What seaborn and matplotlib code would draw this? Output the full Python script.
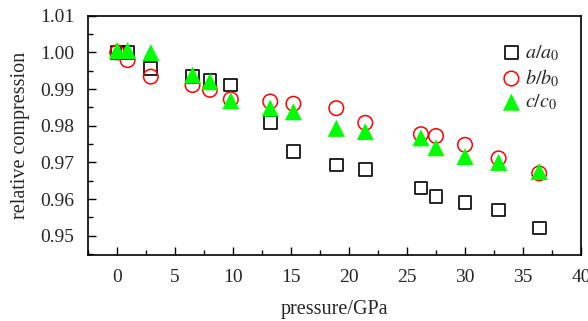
import matplotlib
matplotlib.use("Agg")
import matplotlib.pyplot as plt
from matplotlib.ticker import MultipleLocator
import seaborn as sns
import pandas as pd

# pressure points (GPa), shared by all three series
pressure = [0, 0.9, 2.9, 6.5, 8.0, 9.8, 13.2, 15.2, 18.9, 21.4, 26.2, 27.5, 30.0, 32.9, 36.4]

a_ratio = [1.000, 1.000, 0.9957, 0.9934, 0.9925, 0.9911, 0.9808, 0.9729, 0.9693,
           0.9680, 0.9630, 0.9608, 0.9590, 0.9570, 0.9521]
b_ratio = [1.000, 0.9979, 0.9934, 0.9911, 0.9898, 0.9872, 0.9866, 0.9860, 0.9848,
           0.9808, 0.9777, 0.9772, 0.9748, 0.9711, 0.9670]
c_ratio = [1.0005, 1.0005, 0.9999, 0.9938, 0.9920, 0.9868, 0.9848, 0.9838, 0.9793,
           0.9784, 0.9767, 0.9740, 0.9716, 0.9700, 0.9675]

labels = [r"$a/a_0$", r"$b/b_0$", r"$c/c_0$"]

df = pd.DataFrame({"pressure": pressure, "a": a_ratio, "b": b_ratio, "c": c_ratio})

sns.set_style("white")
plt.rcParams["font.family"] = ["Liberation Serif", "DejaVu Serif"]
plt.rcParams["mathtext.fontset"] = "stix"

fig = plt.figure(figsize=(5.88, 3.21), dpi=100)
ax = fig.add_axes([0.150, 0.205, 0.838, 0.746])

sns.scatterplot(data=df, x="pressure", y="a", ax=ax, marker="s", s=85,
                facecolor="none", edgecolor="black", linewidth=1.2, label=labels[0])
sns.scatterplot(data=df, x="pressure", y="b", ax=ax, marker="o", s=110,
                facecolor="none", edgecolor="red", linewidth=1.1, label=labels[1])
sns.scatterplot(data=df, x="pressure", y="c", ax=ax, marker="^", s=150,
                color="#00ff00", edgecolor="none", linewidth=0, label=labels[2])

ax.set_xlim(-2.5, 40)
ax.set_ylim(0.9447, 1.01)
ax.xaxis.set_major_locator(MultipleLocator(5))
ax.xaxis.set_minor_locator(MultipleLocator(2.5))
ax.yaxis.set_major_locator(MultipleLocator(0.01))
ax.yaxis.set_minor_locator(MultipleLocator(0.005))
ax.yaxis.set_major_formatter(matplotlib.ticker.FormatStrFormatter("%.2f"))
ax.tick_params(which="both", direction="in", bottom=True, left=True, top=False, right=False,
               labelsize=14, color="black", pad=10)
ax.tick_params(which="major", length=6, width=1)
ax.tick_params(which="minor", length=3.5, width=1)
for sp in ax.spines.values():
    sp.set_color("black")
    sp.set_linewidth(1.2)

ax.set_xlabel("pressure/GPa", fontsize=14.5, labelpad=10)
ax.set_ylabel("relative compression", fontsize=14.5, labelpad=7)

ax.legend(loc="upper right", bbox_to_anchor=(0.982, 0.935), frameon=False, fontsize=14.5,
          handletextpad=-0.1, handlelength=1.6, labelspacing=0.2, borderaxespad=0.2)

fig.savefig("out.png", dpi=100)
